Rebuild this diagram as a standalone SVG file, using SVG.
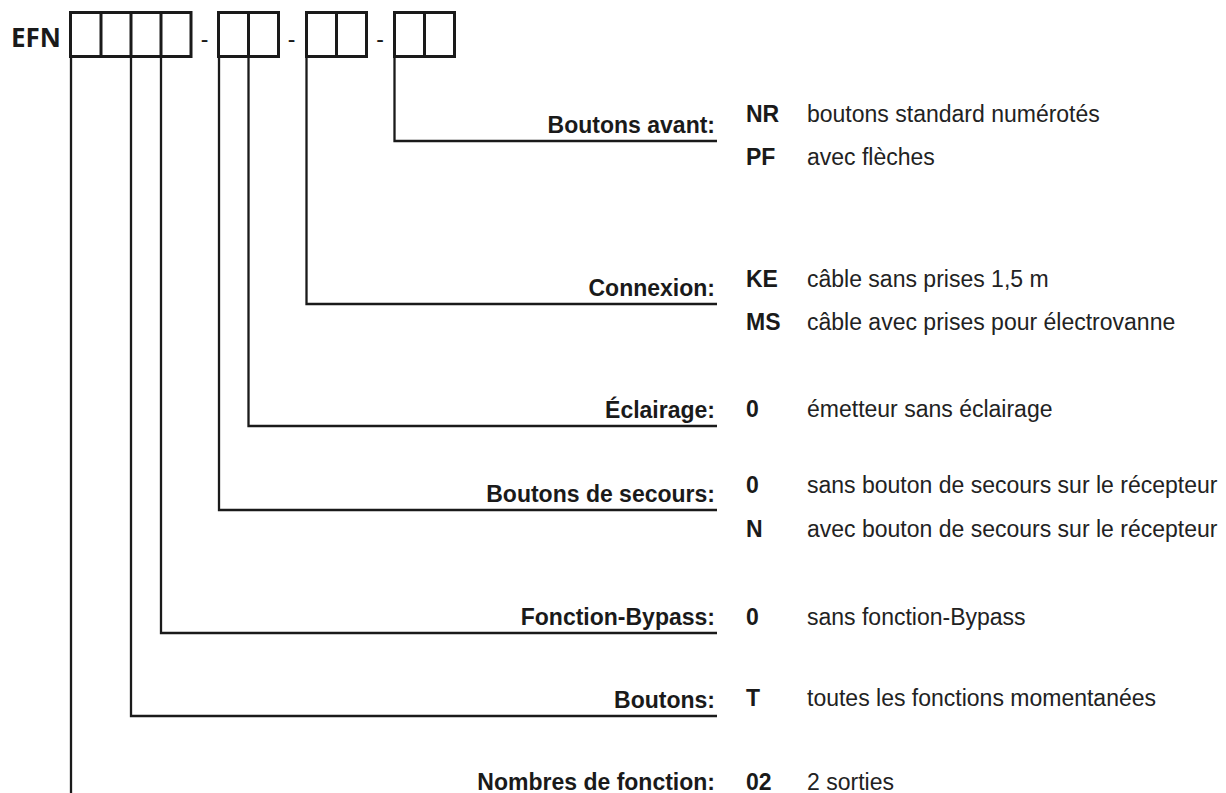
<svg xmlns="http://www.w3.org/2000/svg" width="1226" height="793" viewBox="0 0 1226 793">
<style>
.box{fill:none;stroke:#1a1a1a;stroke-width:3}
.cell{stroke:#1a1a1a;stroke-width:3}
.conn{fill:none;stroke:#1a1a1a;stroke-width:2.3}
.lbl{font-family:"Liberation Sans",Arial,sans-serif;font-weight:bold;font-size:23px;fill:#1a1a1a;text-anchor:end}
.code{font-family:"Liberation Sans",Arial,sans-serif;font-weight:bold;font-size:23px;fill:#1a1a1a}
.desc{font-family:"Liberation Sans",Arial,sans-serif;font-size:23px;fill:#222}
.dash{font-family:"Liberation Sans",Arial,sans-serif;font-size:23px;fill:#1a1a1a;text-anchor:middle}
</style>
<rect width="1226" height="793" fill="#ffffff"/>
<g id="code-header">
<text x="11" y="46.5" style="font-family:'Open Sans','DejaVu Sans',sans-serif;font-weight:bold;font-size:26px;fill:#1a1a1a">EFN</text>
<rect class="box" x="70.5" y="12.5" width="120.5" height="44"/>
<line class="cell" x1="101" y1="12.5" x2="101" y2="56.5"/>
<line class="cell" x1="131" y1="12.5" x2="131" y2="56.5"/>
<line class="cell" x1="161" y1="12.5" x2="161" y2="56.5"/>
<text class="dash" x="204.5" y="47">-</text>
<rect class="box" x="218.5" y="12.5" width="60" height="44"/>
<line class="cell" x1="248.5" y1="12.5" x2="248.5" y2="56.5"/>
<text class="dash" x="291.5" y="47">-</text>
<rect class="box" x="306.5" y="12.5" width="60" height="44"/>
<line class="cell" x1="336.5" y1="12.5" x2="336.5" y2="56.5"/>
<text class="dash" x="380" y="47">-</text>
<rect class="box" x="394.5" y="12.5" width="60" height="44"/>
<line class="cell" x1="424.5" y1="12.5" x2="424.5" y2="56.5"/>
</g>
<g id="connectors">
<polyline class="conn" points="394.5,58 394.5,141 717,141"/>
<polyline class="conn" points="306.5,58 306.5,304 717,304"/>
<polyline class="conn" points="248.5,58 248.5,426 717,426"/>
<polyline class="conn" points="219,58 219,510 717,510"/>
<polyline class="conn" points="161,58 161,633 717,633"/>
<polyline class="conn" points="131,58 131,716 717,716"/>
<polyline class="conn" points="71,58 71,793"/>
</g>
<g id="boutons-avant">
<text class="lbl" x="715" y="133">Boutons avant:</text>
<text class="code" x="746" y="122">NR</text><text class="desc" x="807" y="122">boutons standard numérotés</text>
<text class="code" x="746" y="165">PF</text><text class="desc" x="807" y="165">avec flèches</text>
</g>
<g id="connexion">
<text class="lbl" x="715" y="296">Connexion:</text>
<text class="code" x="746" y="287">KE</text><text class="desc" x="807" y="287">câble sans prises 1,5 m</text>
<text class="code" x="746" y="330">MS</text><text class="desc" x="807" y="330">câble avec prises pour électrovanne</text>
</g>
<g id="eclairage">
<text class="lbl" x="715" y="418">Éclairage:</text>
<text class="code" x="746" y="417">0</text><text class="desc" x="807" y="417">émetteur sans éclairage</text>
</g>
<g id="boutons-secours">
<text class="lbl" x="715" y="502">Boutons de secours:</text>
<text class="code" x="746" y="493">0</text><text class="desc" x="807" y="493">sans bouton de secours sur le récepteur</text>
<text class="code" x="746" y="537">N</text><text class="desc" x="807" y="537">avec bouton de secours sur le récepteur</text>
</g>
<g id="fonction-bypass">
<text class="lbl" x="715" y="625">Fonction-Bypass:</text>
<text class="code" x="746" y="625">0</text><text class="desc" x="807" y="625">sans fonction-Bypass</text>
</g>
<g id="boutons">
<text class="lbl" x="715" y="708">Boutons:</text>
<text class="code" x="746" y="706">T</text><text class="desc" x="807" y="706">toutes les fonctions momentanées</text>
</g>
<g id="nombres-fonction">
<text class="lbl" x="715" y="790">Nombres de fonction:</text>
<text class="code" x="746" y="790">02</text><text class="desc" x="807" y="790">2 sorties</text>
</g>
</svg>
